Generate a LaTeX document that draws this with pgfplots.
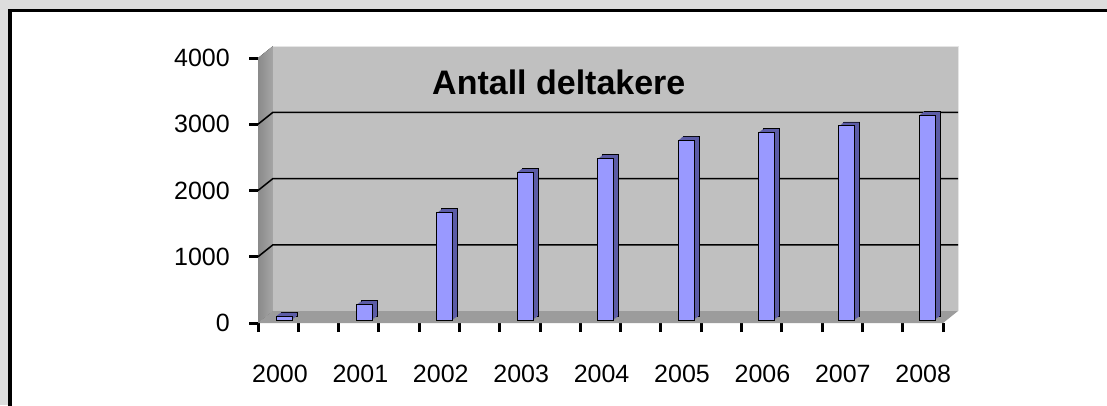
\documentclass[border=0pt]{standalone}
\usepackage{fontspec}
\setmainfont{Liberation Sans}
\usepackage{pgfplots}
\pgfplotsset{compat=1.18}
\newcommand\tickfont{\fontsize{25pt}{30pt}\selectfont}
\definecolor{outer}{HTML}{DDDDDD}
\definecolor{wall}{HTML}{C0C0C0}
\definecolor{sidewallA}{HTML}{8A8A8A}
\definecolor{sidewallB}{HTML}{A6A6A6}
\definecolor{floorc}{HTML}{9C9C9C}
\definecolor{barfront}{HTML}{9999FF}
\definecolor{barside}{HTML}{5C5CA6}
\pgfplotstableread{
x y
0 60
1 230
2 1620
3 2230
4 2435
5 2715
6 2830
7 2930
8 3090
}\deltakere
\begin{document}
\begin{tikzpicture}[x=1pt,y=1pt]
\useasboundingbox (0,0) rectangle (1107,405);
\fill[outer] (0,0) rectangle (1107,405);
\filldraw[fill=white, draw=black, line width=3.5pt] (10,394.5) -- (1130,394.5) -- (1130,-30) -- (10,-30) -- cycle;
\begin{axis}[
  at={(258pt,82pt)}, anchor=south west,
  scale only axis, width=685pt, height=265pt,
  xmin=-0.2736, xmax=8.2463, ymin=0, ymax=4000,
  axis x line*=bottom, axis y line*=left,
  axis line style={draw=none},
  tick align=outside,
  major tick length=9pt,
  tick style={black, line width=3pt},
  ytick={0,1000,2000,3000,4000},
  yticklabels={0,1000,2000,3000,4000},
  tick label style={font=\tickfont},
  yticklabel style={anchor=east, inner sep=0pt, xshift=-19pt},
  xtick={-0.2736,0.2276,0.7288,1.2299,1.7311,2.2323,2.7334,3.2346,3.7358,4.2369,4.7381,5.2393,5.7404,6.2416,6.7428,7.2439,7.7451,8.2463},
  xticklabels={},
  extra x ticks={0,1,2,3,4,5,6,7,8},
  extra x tick labels={2000,2001,2002,2003,2004,2005,2006,2007,2008},
  extra x tick style={major tick length=0pt, xticklabel style={anchor=center, yshift=-51pt}},
  clip=false,
]
% left side wall
\fill[left color=sidewallA, right color=sidewallB] (rel axis cs:0,0) -- (rel axis cs:0,1) -- ([shift={(15pt,12pt)}]rel axis cs:0,1) -- ([shift={(15pt,12pt)}]rel axis cs:0,0) -- cycle;
% back wall
\fill[wall] ([shift={(15pt,12pt)}]rel axis cs:0,0) rectangle ([shift={(15pt,12pt)}]rel axis cs:1,1);
\draw[white!80!gray, line width=1pt] ([shift={(15pt,12pt)}]rel axis cs:0,1) -- ([shift={(15pt,12pt)}]rel axis cs:1,1) -- ([shift={(15pt,12pt)}]rel axis cs:1,0);
% floor
\fill[floorc] (rel axis cs:0,0) -- (rel axis cs:1,0) -- ([shift={(15pt,12pt)}]rel axis cs:1,0) -- ([shift={(15pt,12pt)}]rel axis cs:0,0) -- cycle;
% gridlines
\draw[black, line width=1.5pt] (rel axis cs:0,0.25) -- ([shift={(15pt,12pt)}]rel axis cs:0,0.25) -- ([shift={(15pt,12pt)}]rel axis cs:1,0.25);
\draw[black, line width=1.5pt] (rel axis cs:0,0.5) -- ([shift={(15pt,12pt)}]rel axis cs:0,0.5) -- ([shift={(15pt,12pt)}]rel axis cs:1,0.5);
\draw[black, line width=1.5pt] (rel axis cs:0,0.75) -- ([shift={(15pt,12pt)}]rel axis cs:0,0.75) -- ([shift={(15pt,12pt)}]rel axis cs:1,0.75);
% bars: extruded depth (side and top faces), then front face
\addplot[ybar, bar width=16pt, bar shift=9pt, fill=barside, draw=black, line width=0.7pt, yshift=7pt] table[x=x,y=y] {\deltakere};
\addplot[ybar, bar width=16pt, bar shift=8pt, fill=barside, draw=none, yshift=6.2pt] table[x=x,y=y] {\deltakere};
\addplot[ybar, bar width=16pt, bar shift=7pt, fill=barside, draw=none, yshift=5.4pt] table[x=x,y=y] {\deltakere};
\addplot[ybar, bar width=16pt, bar shift=6pt, fill=barside, draw=none, yshift=4.6pt] table[x=x,y=y] {\deltakere};
\addplot[ybar, bar width=16pt, bar shift=5pt, fill=barside, draw=none, yshift=3.8pt] table[x=x,y=y] {\deltakere};
\addplot[ybar, bar width=16pt, bar shift=4pt, fill=barfront, draw=black, line width=0.8pt, yshift=3pt] table[x=x,y=y] {\deltakere};
\end{axis}
\node[anchor=base west, font=\fontsize{34}{40}\selectfont\bfseries, inner sep=0pt] at (432,310) {Antall deltakere};
\end{tikzpicture}
\end{document}
